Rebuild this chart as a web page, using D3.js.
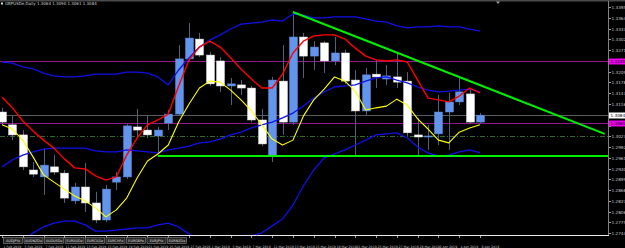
<!DOCTYPE html>
<html><head><meta charset="utf-8">
<script src="https://cdn.jsdelivr.net/npm/d3@7/dist/d3.min.js"></script>
<style>html,body{margin:0;padding:0;background:#000;overflow:hidden}text{font-family:"DejaVu Sans",Arial,sans-serif}</style>
</head><body><svg id="c" width="625" height="248"></svg>
<script>
const symbol = "GBPUSDe,Daily";
const dates = ["1 Feb 2019","4 Feb 2019","5 Feb 2019","6 Feb 2019","7 Feb 2019","8 Feb 2019","11 Feb 2019","12 Feb 2019","13 Feb 2019","14 Feb 2019","15 Feb 2019","18 Feb 2019","19 Feb 2019","20 Feb 2019","21 Feb 2019","22 Feb 2019","25 Feb 2019","26 Feb 2019","27 Feb 2019","28 Feb 2019","1 Mar 2019","4 Mar 2019","5 Mar 2019","6 Mar 2019","7 Mar 2019","8 Mar 2019","11 Mar 2019","12 Mar 2019","13 Mar 2019","14 Mar 2019","15 Mar 2019","18 Mar 2019","19 Mar 2019","20 Mar 2019","21 Mar 2019","22 Mar 2019","25 Mar 2019","26 Mar 2019","27 Mar 2019","28 Mar 2019","29 Mar 2019","1 Apr 2019","2 Apr 2019","3 Apr 2019","4 Apr 2019","5 Apr 2019","8 Apr 2019"];
const open  = [1.3093,1.3056,1.3027,1.2926,1.2906,1.2935,1.2917,1.2837,1.2877,1.2831,1.2782,1.2891,1.2906,1.3050,1.3041,1.3024,1.3061,1.3087,1.3246,1.3303,1.3257,1.3240,1.3168,1.3171,1.3162,1.3070,1.2969,1.3182,1.3064,1.3309,1.3254,1.3292,1.3240,1.3263,1.3185,1.3096,1.3202,1.3188,1.3194,1.3182,1.3027,1.3021,1.3030,1.3093,1.3122,1.3145,1.3064];
const high  = [1.3105,1.3084,1.3041,1.2949,1.2989,1.2969,1.2926,1.2889,1.2946,1.2863,1.2883,1.2920,1.3058,1.3102,1.3084,1.3050,1.3099,1.3286,1.3349,1.3321,1.3266,1.3251,1.3191,1.3185,1.3168,1.3102,1.3194,1.3286,1.3381,1.3321,1.3297,1.3297,1.3309,1.3272,1.3214,1.3220,1.3243,1.3228,1.3266,1.3208,1.3076,1.3056,1.3142,1.3148,1.3191,1.3162,1.3090];
const low   = [1.3056,1.3012,1.2926,1.2906,1.2854,1.2912,1.2831,1.2828,1.2805,1.2773,1.2776,1.2868,1.2900,1.3018,1.3018,1.2975,1.3041,1.3081,1.3240,1.3251,1.3168,1.3151,1.3113,1.3142,1.3064,1.2995,1.2949,1.3027,1.3056,1.3191,1.3214,1.3205,1.3228,1.3174,1.2963,1.3084,1.3162,1.3171,1.3162,1.3024,1.2969,1.2984,1.2998,1.2984,1.3113,1.3058,1.3061];
const close = [1.3064,1.3027,1.2935,1.2914,1.2940,1.2920,1.2845,1.2877,1.2831,1.2782,1.2871,1.2906,1.3053,1.3041,1.3027,1.3041,1.3087,1.3246,1.3306,1.3257,1.3174,1.3168,1.3174,1.3162,1.3070,1.3001,1.3185,1.3064,1.3309,1.3254,1.3280,1.3240,1.3263,1.3182,1.3096,1.3200,1.3194,1.3197,1.3179,1.3033,1.3021,1.3024,1.3093,1.3122,1.3151,1.3064,1.3084];
const redLine    = [1.3136,1.3105,1.3067,1.3038,1.3012,1.2989,1.2958,1.2932,1.2929,1.2909,1.2897,1.2906,1.2969,1.3018,1.3056,1.3070,1.3087,1.3168,1.3243,1.3280,1.3297,1.3280,1.3249,1.3217,1.3188,1.3162,1.3162,1.3202,1.3263,1.3297,1.3312,1.3315,1.3315,1.3303,1.3277,1.3254,1.3243,1.3240,1.3243,1.3237,1.3185,1.3133,1.3128,1.3122,1.3139,1.3162,1.3148];
const yellowLine = [1.3056,1.3044,1.3012,1.2963,1.2912,1.2891,1.2871,1.2851,1.2837,1.2817,1.2791,1.2811,1.2845,1.2903,1.2952,1.2972,1.2998,1.3064,1.3116,1.3162,1.3182,1.3179,1.3156,1.3128,1.3096,1.3056,1.3015,1.2998,1.3012,1.3081,1.3128,1.3159,1.3194,1.3182,1.3153,1.3099,1.3105,1.3110,1.3130,1.3113,1.3073,1.3044,1.3012,1.3004,1.3035,1.3047,1.3056];
const bbUpper  = [1.3237,1.3234,1.3223,1.3217,1.3205,1.3197,1.3194,1.3194,1.3197,1.3202,1.3202,1.3202,1.3208,1.3208,1.3205,1.3194,1.3171,1.3214,1.3249,1.3280,1.3300,1.3315,1.3332,1.3346,1.3349,1.3352,1.3358,1.3355,1.3375,1.3372,1.3364,1.3364,1.3367,1.3367,1.3367,1.3361,1.3355,1.3352,1.3341,1.3335,1.3338,1.3338,1.3341,1.3338,1.3338,1.3332,1.3326];
const bbMiddle = [1.2935,1.2955,1.2969,1.2978,1.2986,1.2989,1.2989,1.2989,1.2989,1.2981,1.2978,1.2978,1.2984,1.2981,1.2978,1.2975,1.2984,1.2989,1.2995,1.3004,1.3007,1.3015,1.3027,1.3035,1.3047,1.3056,1.3064,1.3076,1.3090,1.3110,1.3133,1.3151,1.3165,1.3168,1.3171,1.3182,1.3191,1.3194,1.3185,1.3177,1.3165,1.3156,1.3151,1.3153,1.3156,1.3159,1.3151];
const bbLower  = [1.2632,1.2675,1.2716,1.2745,1.2762,1.2773,1.2779,1.2779,1.2768,1.2750,1.2750,1.2753,1.2756,1.2759,1.2759,1.2768,1.2773,1.2762,1.2742,1.2724,1.2710,1.2713,1.2719,1.2727,1.2736,1.2745,1.2765,1.2785,1.2825,1.2880,1.2926,1.2961,1.2972,1.2984,1.2998,1.3012,1.3027,1.3030,1.3033,1.3018,1.2992,1.2975,1.2966,1.2969,1.2978,1.2984,1.2975];
const priceTicks = [1.3395,1.3364,1.3333,1.3302,1.3271,1.3240,1.3209,1.3178,1.3147,1.3116,1.3085,1.3054,1.3023,1.2992,1.2961,1.2930,1.2899,1.2868,1.2837,1.2806,1.2775,1.2744];
const purpleLevels = [1.3240, 1.3061];
const dashLevel = 1.3024;
const supportLevel = 1.2966, supportStart = 15;
const trendIdx = [28, 58], trendPrice = [1.3381, 1.3030];
const tabs = ["AUDJPYe","AUDNZDe","AUDUSDe","EURAUDe","EURCADe","EURCHFe","EURGBPe","EURJPYe","EURNZDe"];

const W = 625, H = 248, plotR = 608, plotB = 235, plotT = 2;
const svg = d3.select("#c");
svg.append("rect").attr("width", W).attr("height", H).attr("fill", "#000");

const x = d3.scaleLinear().domain([0, dates.length - 1]).range([2, 480]);
const y = d3.scaleLinear().domain([1.273876, 1.341556]).range([235, 0]);
const n = dates.length;
const last = n - 1;

svg.append("clipPath").attr("id", "pc").append("rect").attr("x", 0).attr("y", plotT).attr("width", plotR).attr("height", plotB - plotT);
const g = svg.append("g").attr("clip-path", "url(#pc)");

// horizontal objects
const hl = (p, col, w, dash) => g.append("line").attr("x1", 0).attr("x2", plotR)
  .attr("y1", Math.round(y(p)) + 0.5).attr("y2", Math.round(y(p)) + 0.5)
  .attr("stroke", col).attr("stroke-width", w).attr("stroke-dasharray", dash || null);
hl(close[last], "#5a5a5a", 1);
purpleLevels.forEach(p => hl(p, "#8e1a8e", 1));
hl(dashLevel, "#2f6b2f", 1, "5,2,1,2");

// candles
const idx = d3.range(n);
g.selectAll(".wick").data(idx).join("line")
  .attr("x1", i => Math.round(x(i)) + 0.5).attr("x2", i => Math.round(x(i)) + 0.5)
  .attr("y1", i => y(high[i])).attr("y2", i => y(low[i]))
  .attr("stroke", "#56607a").attr("stroke-width", 1);
g.selectAll(".body").data(idx).join("rect")
  .attr("x", i => Math.round(x(i)) - 3.5).attr("width", 8)
  .attr("y", i => y(Math.max(open[i], close[i])))
  .attr("height", i => Math.max(1, Math.abs(y(open[i]) - y(close[i]))))
  .attr("fill", i => close[i] >= open[i] ? "#6495ed" : "#ffffff")
  .attr("stroke", i => close[i] >= open[i] ? "#5a86d8" : "#d8d8d8").attr("stroke-width", 0.5);

// indicators
const line = d3.line().x((d, i) => x(i)).y(d => y(d));
const path = (arr, col, w) => g.append("path").attr("d", line(arr)).attr("fill", "none").attr("stroke", col).attr("stroke-width", w).attr("stroke-linejoin", "round");
path(bbUpper, "#1010e8", 1.3);
path(bbMiddle, "#1010e8", 1.3);
path(bbLower, "#1010e8", 1.3);
path(redLine, "#ff0000", 1.4);
path(yellowLine, "#ffff00", 1.1);

// support and trend lines
g.append("line").attr("x1", x(supportStart)).attr("x2", plotR)
  .attr("y1", y(supportLevel)).attr("y2", y(supportLevel))
  .attr("stroke", "#00f000").attr("stroke-width", 2);
g.append("line").attr("x1", x(trendIdx[0])).attr("x2", x(trendIdx[1]))
  .attr("y1", y(trendPrice[0])).attr("y2", y(trendPrice[1]))
  .attr("stroke", "#00f000").attr("stroke-width", 2);

// frame
svg.append("rect").attr("x", 0).attr("y", 0).attr("width", W).attr("height", 1.5).attr("fill", "#4a4a4a");
svg.append("line").attr("x1", plotR + 0.5).attr("x2", plotR + 0.5).attr("y1", 1).attr("y2", plotB + 1).attr("stroke", "#808080");
svg.append("line").attr("x1", 0).attr("x2", plotR + 1).attr("y1", plotB + 0.5).attr("y2", plotB + 0.5).attr("stroke", "#e8e8e8");
svg.append("path").attr("d", "M496,1.5 L500,1.5 L498,4 Z").attr("fill", "#9a9a9a");

// title
svg.append("rect").attr("x", 1).attr("y", 2.5).attr("width", 2).attr("height", 2).attr("fill", "#ddd");
svg.append("text").attr("x", 5).attr("y", 5.2).attr("font-size", 4).attr("fill", "#d0d0d0")
  .text(symbol + "  " + [open[last], high[last], low[last], close[last]].map(v => v.toFixed(4)).join(" "));

// price axis
const ax = svg.append("g");
const tagLevels = purpleLevels.concat([close[last]]);
priceTicks.forEach(v => {
  const yy = Math.round(y(v)) + 0.5;
  ax.append("line").attr("x1", plotR + 1).attr("x2", plotR + 3).attr("y1", yy).attr("y2", yy).attr("stroke", "#a0a0a0");
  if (tagLevels.some(p => Math.abs(y(p) - y(v)) < 6.5)) return;
  ax.append("text").attr("x", plotR + 3.5).attr("y", yy + 1.5).attr("font-size", 4.2).attr("fill", "#c8c8c8").text(v.toFixed(4));
});
const tag = (p, bg) => {
  const yy = Math.round(y(p)) + 0.5;
  ax.append("rect").attr("x", plotR + 1).attr("y", yy - 3).attr("width", 16).attr("height", 6).attr("fill", bg);
  ax.append("text").attr("x", plotR + 2.5).attr("y", yy + 1.5).attr("font-size", 4.2).attr("fill", "#000").text(p.toFixed(4));
};
purpleLevels.forEach(p => tag(p, "#ee00ee"));
tag(close[last], "#ffffff");

// date axis
idx.filter(i => i % 2 === 0).forEach(i => {
  const xx = Math.round(x(i)) + 0.5;
  svg.append("line").attr("x1", xx).attr("x2", xx).attr("y1", plotB + 1).attr("y2", plotB + 3).attr("stroke", "#a0a0a0");
  svg.append("text").attr("x", xx + 1).attr("y", 247.5).attr("font-size", 3.2).attr("fill", "#c8c8c8").text(dates[i]);
});

// tabs
tabs.forEach((t, k) => {
  const tx = 3 + k * 20.5;
  svg.append("rect").attr("x", tx + 0.5).attr("y", 237.5).attr("width", 19).attr("height", 6)
    .attr("fill", "#262626").attr("stroke", "#8a8a8a").attr("stroke-width", 0.6);
  svg.append("text").attr("x", tx + 10).attr("y", 241.8).attr("text-anchor", "middle").attr("font-size", 3.4).attr("fill", "#d8d8d8").text(t);
});
</script></body></html>
